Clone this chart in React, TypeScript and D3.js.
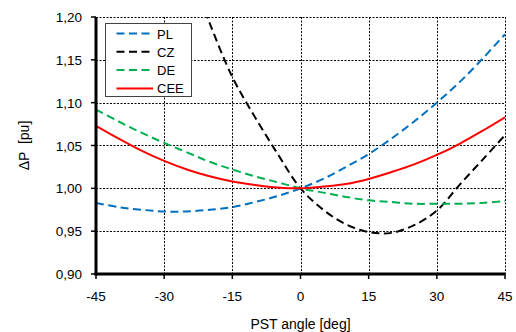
import React from "react";
import * as d3 from "d3";

const angles = [-45, -40, -35, -30, -25, -20, -15, -10, -5, 0, 5, 10, 15, 20, 25, 30, 35, 40, 45];
const plValues = [0.983, 0.978, 0.975, 0.973, 0.973, 0.975, 0.978, 0.984, 0.991, 1.0, 1.011, 1.025, 1.04, 1.058, 1.078, 1.1, 1.124, 1.151, 1.18];
const czAngles = [-22, -20, -15, -10, -5, 0, 5, 10, 15, 20, 25, 30, 35, 40, 45];
const czValues = [1.221, 1.193, 1.13, 1.083, 1.04, 1.0, 0.975, 0.958, 0.949, 0.948, 0.957, 0.974, 1.004, 1.033, 1.062];
const deValues = [1.092, 1.078, 1.065, 1.053, 1.042, 1.031, 1.022, 1.014, 1.007, 1.0, 0.995, 0.99, 0.986, 0.984, 0.982, 0.982, 0.982, 0.983, 0.985];
const ceeValues = [1.073, 1.058, 1.044, 1.032, 1.022, 1.014, 1.008, 1.004, 1.001, 1.0, 1.002, 1.005, 1.011, 1.019, 1.028, 1.039, 1.052, 1.067, 1.083];

const xTicks = [-45, -30, -15, 0, 15, 30, 45];
const yTicks = [0.9, 0.95, 1.0, 1.05, 1.1, 1.15, 1.2];
const seriesNames = ["PL", "CZ", "DE", "CEE"];
const seriesColors = ["#0070C0", "#000000", "#00B050", "#FF0000"];
const seriesDashed = [true, true, true, false];

const W = 516, H = 332;
const left = 96, right = 505, top = 17, bottom = 274;
const FONT = "Liberation Sans, Arial, sans-serif";

export default function App() {
  const x = d3.scaleLinear().domain([-45, 45]).range([left, right]);
  const y = d3.scaleLinear().domain([0.9, 1.2]).range([bottom, top]);
  const line = d3
    .line<[number, number]>()
    .x((d) => x(d[0]))
    .y((d) => y(d[1]))
    .curve(d3.curveCatmullRom.alpha(0.5));

  const series: [number, number][][] = [
    angles.map((a, i) => [a, plValues[i]]),
    czAngles.map((a, i) => [a, czValues[i]]),
    angles.map((a, i) => [a, deValues[i]]),
    angles.map((a, i) => [a, ceeValues[i]]),
  ];

  const fmt = (v: number) => v.toFixed(2).replace(".", ",");

  return (
    <svg width={W} height={H} style={{ position: "absolute", left: 0, top: 0, background: "#fff" }} fontFamily={FONT}>
      <defs>
        <clipPath id="plot">
          <rect x={left} y={top} width={right - left} height={bottom - top} />
        </clipPath>
      </defs>
      <rect x={0} y={0} width={W} height={H} fill="#fff" />
      {/* grid */}
      {yTicks.filter((t) => t > 0.9).map((t) => (
        <line key={"gy" + t} x1={left} x2={right} y1={Math.round(y(t)) + 0.5} y2={Math.round(y(t)) + 0.5} stroke="#000" strokeWidth={1} strokeDasharray="2,1.5" />
      ))}
      {xTicks.filter((t) => t > -45).map((t) => (
        <line key={"gx" + t} x1={Math.round(x(t)) + 0.5} x2={Math.round(x(t)) + 0.5} y1={top} y2={bottom} stroke="#000" strokeWidth={1} strokeDasharray="2,1.5" />
      ))}
      {/* series */}
      <g clipPath="url(#plot)">
        {series.map((s, i) => (
          <path key={seriesNames[i]} d={line(s) || ""} fill="none" stroke={seriesColors[i]} strokeWidth={2} strokeDasharray={seriesDashed[i] ? "8,4.5" : undefined} />
        ))}
      </g>
      {/* axes */}
      <line x1={left} x2={left} y1={top} y2={bottom + 1.5} stroke="#000" strokeWidth={3} />
      <line x1={left - 1.5} x2={right} y1={bottom} y2={bottom} stroke="#000" strokeWidth={3} />
      {yTicks.map((t) => (
        <g key={"yt" + t}>
          <line x1={left - 5} x2={left} y1={y(t)} y2={y(t)} stroke="#000" strokeWidth={1.5} />
          <text x={82} y={y(t) + 5} textAnchor="end" fontSize={13.5} fill="#000">{fmt(t)}</text>
        </g>
      ))}
      {xTicks.map((t) => (
        <g key={"xt" + t}>
          <line x1={x(t)} x2={x(t)} y1={bottom} y2={bottom + 5} stroke="#000" strokeWidth={1.5} />
          <text x={x(t)} y={301} textAnchor="middle" fontSize={13.5} fill="#000">{t}</text>
        </g>
      ))}
      <text x={(left + right) / 2} y={329} textAnchor="middle" fontSize={14} fill="#000">PST angle [deg]</text>
      <text transform={`translate(29,${(top + bottom) / 2}) rotate(-90)`} textAnchor="middle" fontSize={14} fill="#000" xmlSpace="preserve">ΔP  [pu]</text>
      {/* legend */}
      <rect x={105.5} y={23.5} width={86} height={73} fill="#fff" stroke="#444" strokeWidth={1} />
      {seriesNames.map((n, i) => {
        const ly = 33.5 + i * 18.3;
        return (
          <g key={"lg" + n}>
            <line x1={116.5} x2={153} y1={ly} y2={ly} stroke={seriesColors[i]} strokeWidth={2} strokeDasharray={seriesDashed[i] ? "8,4.5" : undefined} />
            <text x={157} y={ly + 5} fontSize={13} fill="#000">{n}</text>
          </g>
        );
      })}
    </svg>
  );
}
